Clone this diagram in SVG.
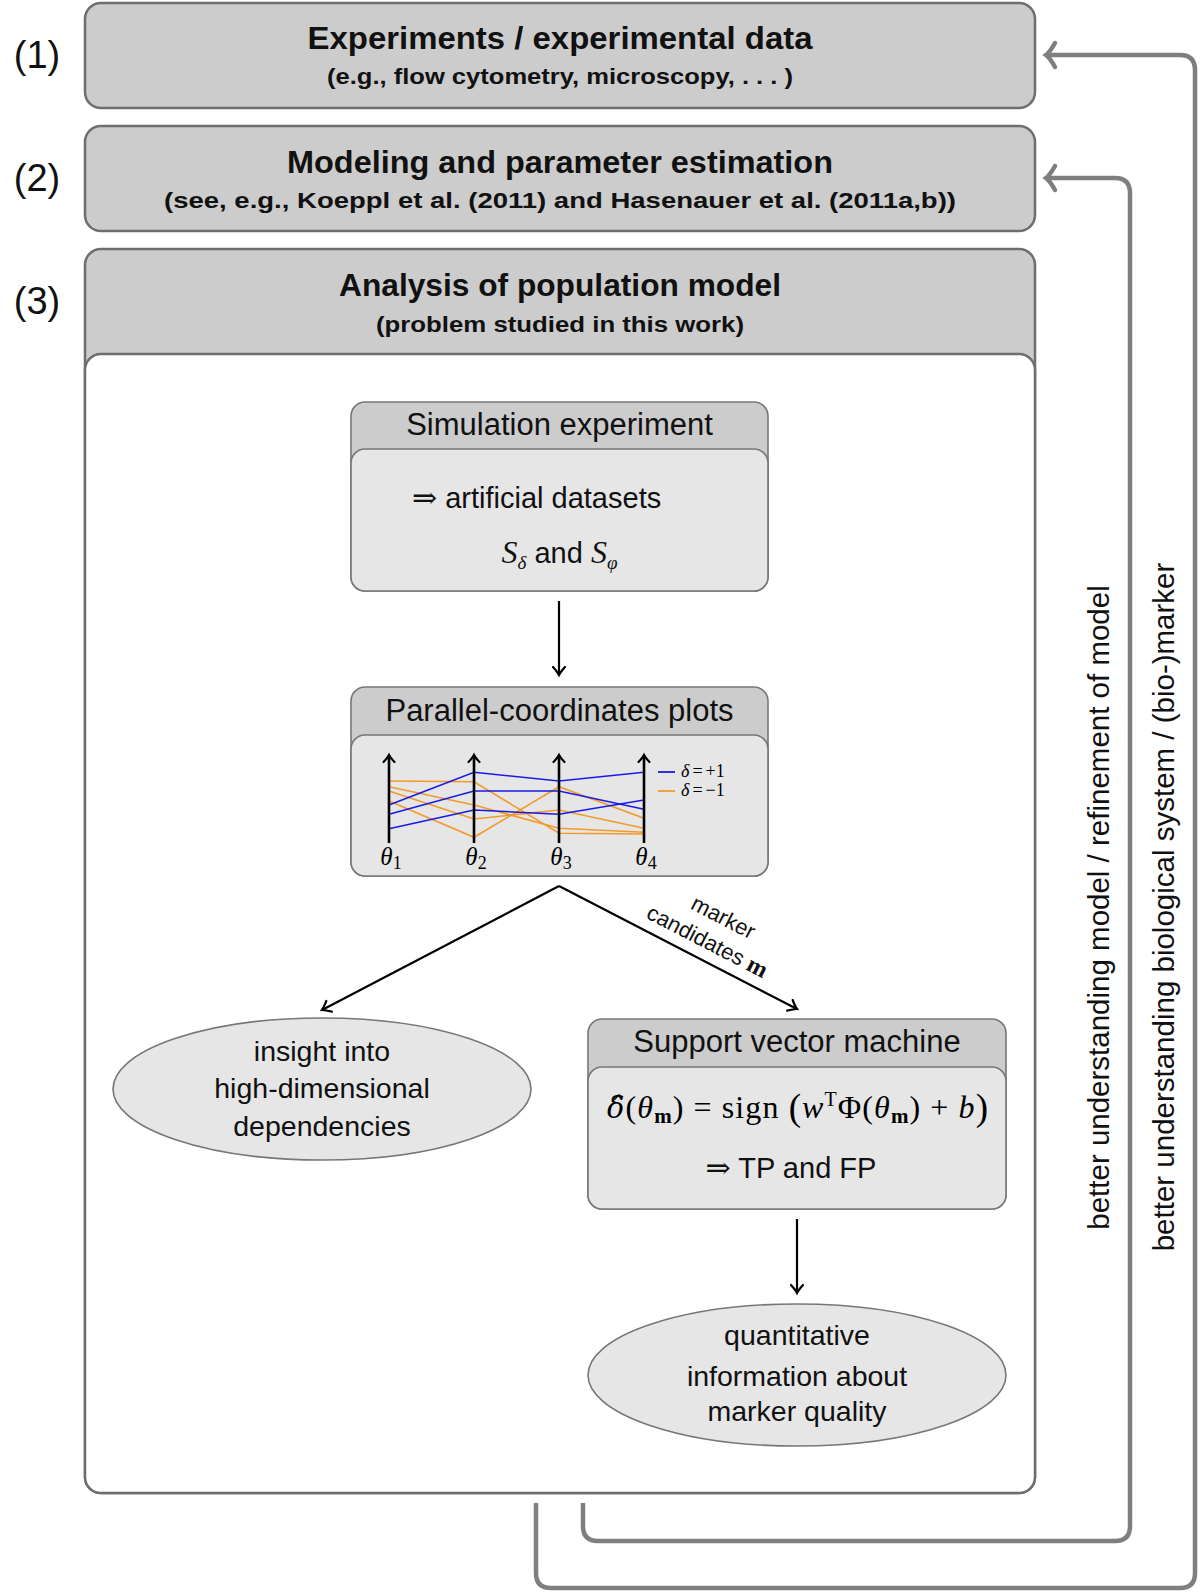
<svg xmlns="http://www.w3.org/2000/svg" width="1200" height="1593" viewBox="0 0 1200 1593">
<style>
.box{fill:#cccccc;stroke:#6e6e6e;stroke-width:2.5}
.white{fill:#ffffff;stroke:#6e6e6e;stroke-width:2.5}
.nhead{fill:#cccccc;stroke:#777777;stroke-width:1.6}
.nbody{fill:#e6e6e6;stroke:#777777;stroke-width:1.6}
.ell{fill:#e6e6e6;stroke:#777777;stroke-width:1.6}
.tb{font-family:"Liberation Sans",Arial,sans-serif;font-weight:bold;text-anchor:middle;fill:#111}
.t{font-family:"Liberation Sans","DejaVu Sans",sans-serif;fill:#111}
.c{text-anchor:middle}
.m{font-family:"Liberation Serif","DejaVu Serif",serif}
.it{font-style:italic}
.fb{fill:none;stroke:#7f7f7f;stroke-width:4.5;stroke-linejoin:round}
.ar{fill:none;stroke:#000;stroke-width:2.2}
.ax{fill:none;stroke:#000;stroke-width:2.6}
.blue{fill:none;stroke:#1a1ae6;stroke-width:1.6}
.orange{fill:none;stroke:#f39a2a;stroke-width:1.6}
</style>
<defs>
<marker id="ghead" markerUnits="userSpaceOnUse" markerWidth="30" markerHeight="30" viewBox="-15 -15 30 30" refX="0" refY="0" orient="auto" overflow="visible">
<path d="M-9,-12 Q-4,-3 0,0 Q-4,3 -9,12" fill="none" stroke="#7f7f7f" stroke-width="4.5" stroke-linecap="round"/>
</marker>
<marker id="bhead" markerUnits="userSpaceOnUse" markerWidth="20" markerHeight="20" viewBox="-10 -10 20 20" refX="0" refY="0" orient="auto" overflow="visible">
<path d="M-8,-6 Q-3,-1.5 0,0 Q-3,1.5 -8,6" fill="none" stroke="#000" stroke-width="2.2" stroke-linecap="round"/>
</marker>
<marker id="axhead" markerUnits="userSpaceOnUse" markerWidth="20" markerHeight="20" viewBox="-10 -10 20 20" refX="0" refY="0" orient="auto" overflow="visible">
<path d="M-7,-5.5 Q-2.5,-1.2 0,0 Q-2.5,1.2 -7,5.5" fill="none" stroke="#000" stroke-width="2.2" stroke-linecap="round"/>
</marker>
</defs>
<rect width="1200" height="1593" fill="#ffffff"/>

<g id="labels-steps">
<text class="t c" x="37" y="68" font-size="38">(1)</text>
<text class="t c" x="37" y="191" font-size="38">(2)</text>
<text class="t c" x="37" y="314" font-size="38">(3)</text>
</g>

<g id="box1">
<rect class="box" x="85" y="3" width="950" height="105" rx="16"/>
<text class="tb" x="560" y="49" font-size="31" textLength="505" lengthAdjust="spacingAndGlyphs">Experiments / experimental data</text>
<text class="tb" x="560" y="84" font-size="22" textLength="466" lengthAdjust="spacingAndGlyphs">(e.g., flow cytometry, microscopy, . . . )</text>
</g>

<g id="box2">
<rect class="box" x="85" y="126" width="950" height="105" rx="16"/>
<text class="tb" x="560" y="173" font-size="31" textLength="546" lengthAdjust="spacingAndGlyphs">Modeling and parameter estimation</text>
<text class="tb" x="560" y="208" font-size="22" textLength="792" lengthAdjust="spacingAndGlyphs">(see, e.g., Koeppl et al. (2011) and Hasenauer et al. (2011a,b))</text>
</g>

<g id="box3">
<rect class="box" x="85" y="249" width="950" height="1244" rx="16"/>
<rect class="white" x="85" y="354" width="950" height="1139" rx="16"/>
<text class="tb" x="560" y="296" font-size="31" textLength="442" lengthAdjust="spacingAndGlyphs">Analysis of population model</text>
<text class="tb" x="560" y="332" font-size="22" textLength="368" lengthAdjust="spacingAndGlyphs">(problem studied in this work)</text>
</g>

<g id="sim">
<rect class="nhead" x="351" y="402" width="417" height="189" rx="14"/>
<rect class="nbody" x="351" y="449" width="417" height="142" rx="14"/>
<text class="t c" x="559.5" y="435" font-size="31">Simulation experiment</text>
<text class="t" x="412" y="508" font-size="29"><tspan font-family="DejaVu Serif,serif" font-size="30">⇒</tspan> artificial datasets</text>
<text class="t c" x="559.5" y="563" font-size="29"><tspan class="m it" font-size="32">S</tspan><tspan class="m it" font-size="19" dy="6">δ</tspan><tspan dy="-6"> and </tspan><tspan class="m it" font-size="32">S</tspan><tspan class="m it" font-size="19" dy="6">φ</tspan></text>
</g>

<g id="pcp">
<rect class="nhead" x="351" y="687" width="417" height="189" rx="14"/>
<rect class="nbody" x="351" y="735" width="417" height="141" rx="14"/>
<text class="t c" x="559.5" y="721" font-size="31">Parallel-coordinates plots</text>
<polyline class="orange" points="389,781 474,781.7 559,833.3 644,834"/>
<polyline class="orange" points="389,786.7 474,805 559,828.3 644,832.3"/>
<polyline class="orange" points="389,791 474,819 559,810 644,828.3"/>
<polyline class="orange" points="389,801 474,837.3 559,786.7 644,818.3"/>
<polyline class="blue" points="389,805 474,772.3 559,781 644,772.3"/>
<polyline class="blue" points="389,814.3 474,791 559,791 644,809.3"/>
<polyline class="blue" points="389,828.7 474,810 559,814.3 644,800"/>
<line class="ax" x1="389" y1="843" x2="389" y2="755" marker-end="url(#axhead)"/>
<line class="ax" x1="474" y1="843" x2="474" y2="755" marker-end="url(#axhead)"/>
<line class="ax" x1="559" y1="843" x2="559" y2="755" marker-end="url(#axhead)"/>
<line class="ax" x1="644" y1="843" x2="644" y2="755" marker-end="url(#axhead)"/>
<line x1="658" y1="772" x2="675" y2="772" stroke="#1a1ae6" stroke-width="1.8"/>
<line x1="658" y1="791" x2="675" y2="791" stroke="#f39a2a" stroke-width="1.8"/>
<text class="m" x="681" y="777" font-size="18"><tspan class="it">δ</tspan><tspan dx="3">=</tspan><tspan dx="3">+1</tspan></text>
<text class="m" x="681" y="796" font-size="18"><tspan class="it">δ</tspan><tspan dx="3">=</tspan><tspan dx="3">−1</tspan></text>
<text class="m c" x="391" y="865" font-size="25"><tspan class="it">θ</tspan><tspan font-size="18" dy="4">1</tspan></text>
<text class="m c" x="476" y="865" font-size="25"><tspan class="it">θ</tspan><tspan font-size="18" dy="4">2</tspan></text>
<text class="m c" x="561" y="865" font-size="25"><tspan class="it">θ</tspan><tspan font-size="18" dy="4">3</tspan></text>
<text class="m c" x="646" y="865" font-size="25"><tspan class="it">θ</tspan><tspan font-size="18" dy="4">4</tspan></text>
</g>

<g id="insight">
<ellipse class="ell" cx="322" cy="1089" rx="209" ry="71"/>
<text class="t c" x="322" y="1061" font-size="28.5">insight into</text>
<text class="t c" x="322" y="1098" font-size="28.5">high-dimensional</text>
<text class="t c" x="322" y="1136" font-size="28.5">dependencies</text>
</g>

<g id="svm">
<rect class="nhead" x="588" y="1019" width="418" height="190" rx="14"/>
<rect class="nbody" x="588" y="1067" width="418" height="142" rx="14"/>
<text class="t c" x="797" y="1052" font-size="31">Support vector machine</text>
<text class="m" x="607" y="1118" font-size="32" textLength="381" lengthAdjust="spacing"><tspan class="it" font-family="DejaVu Serif,serif" font-size="29">δ̂</tspan>(<tspan class="it">θ</tspan><tspan font-weight="bold" font-size="21" dy="5">m</tspan><tspan dy="-5">) = sign </tspan><tspan font-size="37" dy="2">(</tspan><tspan class="it" dy="-2">w</tspan><tspan font-size="20" dy="-12">T</tspan><tspan dy="12">Φ(</tspan><tspan class="it">θ</tspan><tspan font-weight="bold" font-size="21" dy="5">m</tspan><tspan dy="-5">) + </tspan><tspan class="it">b</tspan><tspan font-size="37" dy="2">)</tspan></text>
<text class="t c" x="791" y="1178" font-size="29"><tspan font-family="DejaVu Serif,serif" font-size="30">⇒</tspan> TP and FP</text>
</g>

<g id="quant">
<ellipse class="ell" cx="797" cy="1375" rx="209" ry="71"/>
<text class="t c" x="797" y="1345" font-size="28.5">quantitative</text>
<text class="t c" x="797" y="1386" font-size="28.5">information about</text>
<text class="t c" x="797" y="1421" font-size="28.5">marker quality</text>
</g>

<g id="connectors">
<line class="ar" x1="559" y1="601" x2="559" y2="675" marker-end="url(#bhead)"/>
<line class="ar" x1="559" y1="886" x2="322" y2="1010" marker-end="url(#bhead)"/>
<line class="ar" x1="559" y1="886" x2="797" y2="1009" marker-end="url(#bhead)"/>
<line class="ar" x1="797" y1="1219" x2="797" y2="1293" marker-end="url(#bhead)"/>
<text class="t c" transform="translate(720,924) rotate(27.3)" font-size="22">marker</text>
<text class="t c" transform="translate(704,948) rotate(27.3)" font-size="22">candidates <tspan class="m" font-weight="bold" font-size="24">m</tspan></text>
<path class="fb" d="M536,1503 V1573 Q536,1588 551,1588 H1180 Q1195,1588 1195,1573 V70 Q1195,55 1180,55 H1046" marker-end="url(#ghead)"/>
<path class="fb" d="M583,1503 V1526 Q583,1541 598,1541 H1115 Q1130,1541 1130,1526 V193 Q1130,178 1115,178 H1046" marker-end="url(#ghead)"/>
<text class="t c" transform="translate(1109,907.5) rotate(-90)" font-size="29.5">better understanding model / refinement of model</text>
<text class="t c" transform="translate(1174,907) rotate(-90)" font-size="29.5">better understanding biological system / (bio-)marker</text>
</g>
</svg>
